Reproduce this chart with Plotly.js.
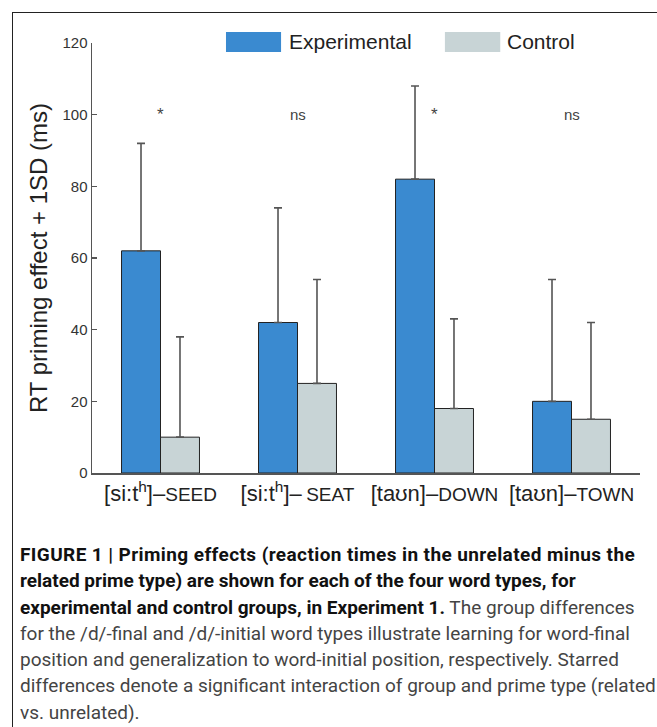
<!DOCTYPE html>
<html>
<head>
<meta charset="utf-8">
<script src="https://cdn.plot.ly/plotly-3.0.1.min.js"></script>
<style>
  html, body { margin: 0; padding: 0; background: #fff; }
  body { width: 657px; height: 727px; position: relative; overflow: hidden; }
  #frame { position: absolute; left: 12px; top: 12px; width: 700px; height: 760px;
           border-left: 1px solid #222; border-top: 1px solid #222; }
  #chart { position: absolute; left: 0; top: 0; width: 657px; height: 527px; }
  #caption { position: absolute; left: 20px; top: 542px; width: 637px;
             font-family: Roboto, "Liberation Sans", sans-serif;
             font-size: 19px; letter-spacing: 0px; line-height: 26.3px; color: #444; white-space: nowrap; }
  #caption b { color: #111; }
  #caption .l1 { letter-spacing: 0.4px; }
</style>
</head>
<body>
<div id="frame"></div>
<div id="chart"></div>
<div id="caption"><b><span class="l1">FIGURE 1 | Priming effects (reaction times in the unrelated minus the</span><br>related prime type) are shown for each of the four word types, for<br>experimental and control groups, in Experiment 1.</b> The group differences<br>for the /d/-final and /d/-initial word types illustrate learning for word-final<br>position and generalization to word-initial position, respectively. Starred<br>differences denote a significant interaction of group and prime type (related<br>vs. unrelated).</div>
<script>
const categories = ["seed", "seat", "down", "town"];
const tickLabels = [
  "[si:t<sup>h</sup>]–<span style='font-size:19px'>SEED</span>",
  "[si:t<sup>h</sup>]–\u2009<span style='font-size:19px'>SEAT</span>",
  "[taʊn]–<span style='font-size:19px'>DOWN</span>",
  "[taʊn]–<span style='font-size:19px'>TOWN</span>"
];
const experimental = [62, 42, 82, 20];
const experimentalSD = [30, 32, 26, 34];
const control = [10, 25, 18, 15];
const controlSD = [28, 29, 25, 27];
const significance = ["*", "ns", "*", "ns"];
const significanceY = 100;
const seriesNames = ["Experimental", "Control"];

const expColor = "#3a8ad0";
const ctlColor = "#c8d4d6";
const zeros = categories.map(() => 0);

const traces = [
  {
    type: "bar", name: seriesNames[0], x: categories, y: experimental,
    marker: { color: expColor, line: { color: "#222", width: 1 } },
    error_y: { type: "data", symmetric: false, array: experimentalSD, arrayminus: zeros,
               color: "#555", thickness: 1.6, width: 4 },
    showlegend: false
  },
  {
    type: "bar", name: seriesNames[1], x: categories, y: control,
    marker: { color: ctlColor, line: { color: "#222", width: 1 } },
    error_y: { type: "data", symmetric: false, array: controlSD, arrayminus: zeros,
               color: "#555", thickness: 1.6, width: 4 },
    showlegend: false
  }
];

const annotations = categories.map((c, i) => ({
  x: c, y: significanceY, xref: "x", yref: "y", text: significance[i], showarrow: false,
  font: { family: "Liberation Sans, Arial, sans-serif", size: significance[i] === "*" ? 17 : 15, color: "#444" }
}));
// legend texts
annotations.push(
  { xref: "paper", yref: "paper", x: 0.356, y: 1.0025, xanchor: "left", yanchor: "middle",
    text: seriesNames[0], showarrow: false,
    font: { family: "Liberation Sans, Arial, sans-serif", size: 21, color: "#222" } },
  { xref: "paper", yref: "paper", x: 0.753, y: 1.0025, xanchor: "left", yanchor: "middle",
    text: seriesNames[1], showarrow: false,
    font: { family: "Liberation Sans, Arial, sans-serif", size: 21, color: "#222" } }
);

const shapes = [
  { type: "rect", xref: "paper", yref: "paper", x0: 0.2445, x1: 0.345, y0: 0.979, y1: 1.0256,
    fillcolor: expColor, line: { width: 0 } },
  { type: "rect", xref: "paper", yref: "paper", x0: 0.644, x1: 0.745, y0: 0.979, y1: 1.0256,
    fillcolor: ctlColor, line: { width: 0 } }
];

const layout = {
  width: 657, height: 527,
  margin: { l: 92, r: 17, t: 43, b: 54, pad: 0 },
  paper_bgcolor: "rgba(0,0,0,0)", plot_bgcolor: "rgba(0,0,0,0)",
  barmode: "group", bargap: 0.431, bargroupgap: 0,
  font: { family: "Liberation Sans, Arial, sans-serif", color: "#222" },
  xaxis: {
    type: "category", range: [-0.5, 3.5], tickvals: categories, ticktext: tickLabels,
    ticks: "", showline: true, linecolor: "#555", linewidth: 1.5, showgrid: false,
    zeroline: false, tickfont: { size: 22, color: "#222" }, fixedrange: true
  },
  yaxis: {
    range: [0, 120], tickvals: [0, 20, 40, 60, 80, 100, 120], ticks: "inside", ticklen: 5,
    tickcolor: "#555", tickwidth: 1.5, showline: true, linecolor: "#555", linewidth: 1.5,
    showgrid: false, zeroline: false, tickfont: { size: 15, color: "#333" },
    title: { text: "RT priming effect + 1SD (ms)", font: { size: 24, color: "#222" }, standoff: 8 },
    fixedrange: true
  },
  annotations: annotations,
  shapes: shapes
};

Plotly.newPlot("chart", traces, layout, { displayModeBar: false, staticPlot: true });
</script>
</body>
</html>
